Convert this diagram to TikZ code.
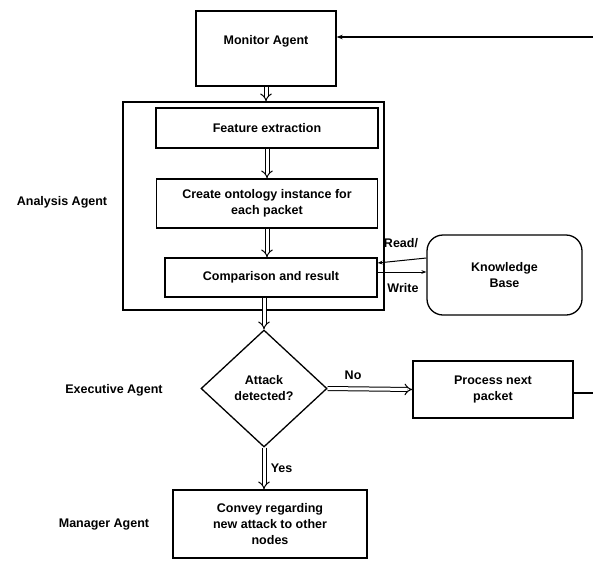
\documentclass[tikz,border=0pt]{standalone}
\usepackage{fontspec}
\setmainfont{Liberation Sans}
\usetikzlibrary{arrows.meta, positioning, calc, shapes.geometric}

\tikzset{
  box/.style={draw, line width=1.3pt, inner sep=0pt, align=center},
  dbl/.style={double, double distance=3pt, line width=1pt, -{Implies[length=6pt, width=11pt]}},
  rw/.style={line width=1pt, -{Stealth[length=5pt]}},
  lbl/.style={font=\fontsize{12.5}{14}\selectfont\bfseries}
}

\begin{document}
\begin{tikzpicture}[x=1pt, y=-1pt, font=\fontsize{12.5}{16}\selectfont\bfseries]
        \useasboundingbox (0,0) rectangle (593,560);
        % Monitor and analysis
        \node[box, minimum width=140, minimum height=75] (mon) at (266,48.5) {Monitor Agent\\[2pt]};
        \node[box, minimum width=261, minimum height=208] (ana) at (253.5,206) {};
        \node[box, minimum width=222, minimum height=40] (feat) at (267,128) {Feature extraction};
        \node[box, minimum width=221, minimum height=49] (onto) at (267,203.5) {Create ontology instance for\\each packet};
        \node[box, minimum width=212, minimum height=39] (cmp) at (271,277.5) {Comparison and result};
        \node[box, rounded corners=16pt, minimum width=155, minimum height=80] (kb) at (504.5,275) {Knowledge\\Base};
        % Decision and actions
        \node[box, diamond, minimum width=126, minimum height=117] (dec) at (264,388.5) {Attack\\detected?};
        \node[box, minimum width=160, minimum height=57] (pro) at (493,389.5) {Process next\\packet};
        \node[box, minimum width=194, minimum height=68] (con) at (270,524) {Convey regarding\\new attack to other\\nodes};
        % Agent labels
        \node[lbl] (lana) at (62,202) {Analysis Agent};
        \node[lbl] (lexe) at (114,390) {Executive Agent};
        \node[lbl] (lman) at (104,525) {Manager Agent};

        \draw[dbl] (mon.south) -- (mon.south |- ana.north);
        \draw[dbl] (feat.south) -- (onto.north);
        \draw[dbl] (onto.south) -- (onto.south |- cmp.north);
        \draw[dbl] (dec.north |- cmp.south) -- (dec.north);
        \draw[dbl, -{Implies[length=20pt, width=11pt]}] (dec.east) -- node[above=5pt, pos=0.3, lbl] (lno) {No} (pro.west);
        \draw[dbl] (dec.south) -- node[right=3pt, lbl] (lyes) {Yes} (dec.south |- con.north);

        % Read / Write
        \draw[rw] ([yshift=17pt]kb.west) -- ([yshift=14.5pt]cmp.east);
        \draw[rw] ([yshift=5.5pt]cmp.east) -- ([yshift=3pt]kb.west);
        \node[lbl] (lread) at (401,243) {Read/};
        \node[lbl] (lwrite) at (403,288) {Write};

        % Feedback loop
        \coordinate (fb) at (593.5,37);
        \draw[line width=1.2pt, -{Stealth[length=6pt]}] ([yshift=-3.5pt]pro.east) -| (fb) -- ([yshift=11.5pt]mon.east);
    \end{tikzpicture}
\end{document}
